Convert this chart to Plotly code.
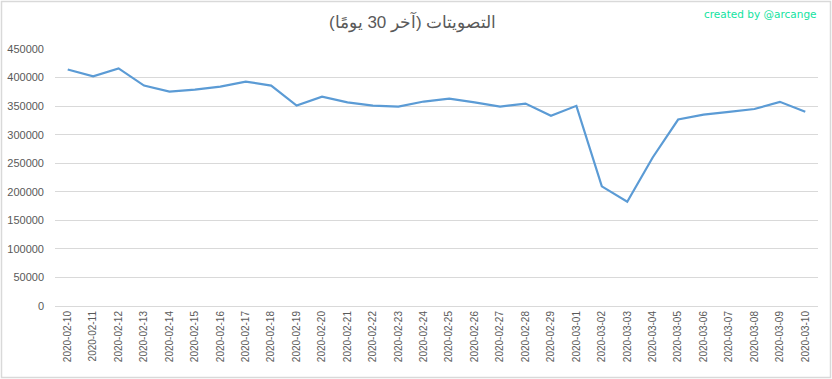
import plotly.graph_objects as go

dates = ["2020-02-10", "2020-02-11", "2020-02-12", "2020-02-13", "2020-02-14",
         "2020-02-15", "2020-02-16", "2020-02-17", "2020-02-18", "2020-02-19",
         "2020-02-20", "2020-02-21", "2020-02-22", "2020-02-23", "2020-02-24",
         "2020-02-25", "2020-02-26", "2020-02-27", "2020-02-28", "2020-02-29",
         "2020-03-01", "2020-03-02", "2020-03-03", "2020-03-04", "2020-03-05",
         "2020-03-06", "2020-03-07", "2020-03-08", "2020-03-09", "2020-03-10"]
votes = [414000, 402000, 416000, 386000, 375500,
         379000, 384000, 393000, 386000, 351000,
         366500, 356500, 351000, 349000, 358000,
         363000, 356500, 349000, 354500, 333000,
         350500, 209500, 182500, 260000, 326500,
         335000, 340000, 345000, 357500, 340000]
y_ticks = [0, 50000, 100000, 150000, 200000, 250000, 300000, 350000, 400000, 450000]

title_text = "التصويتات (آخر 30 يومًا)"
credit_text = "created by @arcange"

W, H = 832, 379
ml, mr, mt, mb = 55, 14, 49, 73
pw, ph = W - ml - mr, H - mt - mb

fig = go.Figure()
fig.add_trace(go.Scatter(
    x=dates, y=votes, mode="lines",
    line=dict(color="#5B9BD5", width=2.2),
    hoverinfo="x+y", showlegend=False,
))

font_family = "Liberation Sans, Arial, sans-serif"

fig.update_layout(
    width=W, height=H,
    margin=dict(l=ml, r=mr, t=mt, b=mb, pad=0),
    paper_bgcolor="white", plot_bgcolor="white",
    font=dict(family=font_family, color="#595959", size=11),
    xaxis=dict(
        type="category",
        range=[-0.5, len(dates) - 0.5],
        tickangle=-90,
        tickfont=dict(size=10, color="#595959"),
        showgrid=False,
        showline=True, linecolor="#D9D9D9", linewidth=1,
        ticks="", ticklen=0,
        zeroline=False,
        automargin=False,
    ),
    yaxis=dict(
        range=[0, 450000],
        tickvals=y_ticks,
        ticktext=[str(v) for v in y_ticks],
        tickfont=dict(size=11, color="#595959"),
        showgrid=True, gridcolor="#D9D9D9", gridwidth=1,
        zeroline=False, showline=False,
        ticks="", ticklabelstandoff=10,
        automargin=False,
    ),
    annotations=[
        dict(text=title_text, xref="paper", yref="paper",
             x=(412 - ml) / pw, y=(H - 22 - mb) / ph, xanchor="center", yanchor="middle",
             showarrow=False, font=dict(size=17, color="#595959", family=font_family)),
        dict(text=credit_text, xref="paper", yref="paper",
             x=(819 - ml) / pw, y=(H - 14 - mb) / ph, xanchor="right", yanchor="middle",
             showarrow=False, font=dict(size=10.5, color="#12E3A0", family="DejaVu Sans, sans-serif")),
    ],
    shapes=[
        dict(type="rect", xref="paper", yref="paper",
             x0=(1.5 - ml) / pw, x1=(830.5 - ml) / pw,
             y0=(H - 377.5 - mb) / ph, y1=(H - 1.5 - mb) / ph,
             line=dict(color="#D9D9D9", width=1.5), fillcolor="rgba(0,0,0,0)", layer="below"),
    ],
)

fig.write_html("out.html")
